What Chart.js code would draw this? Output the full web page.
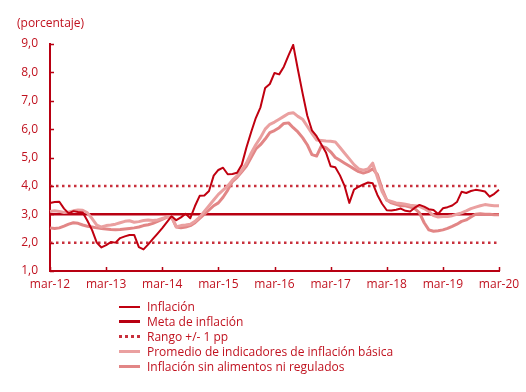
<!DOCTYPE html>
<html>
<head>
<meta charset="utf-8">
<script src="https://cdn.jsdelivr.net/npm/chart.js@4/dist/chart.umd.min.js"></script>
<style>
  html, body { margin: 0; padding: 0; background: #fff; }
  #wrap { position: relative; width: 526px; height: 392px; font-family: "Open Sans", sans-serif; color: #c0121f; }
  #title { position: absolute; left: 17px; top: 14px; font-size: 12px; }
  #legend { position: absolute; left: 119px; top: 299px; font-size: 12px; }
  .item { height: 15px; line-height: 15px; position: relative; padding-left: 28px; white-space: nowrap; }
  .item span.sw { position: absolute; left: 0; top: 7px; width: 21px; }
</style>
</head>
<body>
<div id="wrap">
  <canvas id="c" width="526" height="392"></canvas>
  <div id="title">(porcentaje)</div>
  <div id="legend"></div>
</div>
<script>
// meses mar-12 .. mar-20
var monthNames = ['ene','feb','mar','abr','may','jun','jul','ago','sep','oct','nov','dic'];
var years = ['12','13','14','15','16','17','18','19','20'];

var inflacion = [
  3.40, 3.43, 3.44, 3.20, 3.03, 3.11, 3.08, 3.06, 2.77, 2.44,
  2.00, 1.83, 1.91, 2.02, 2.00, 2.16, 2.22, 2.27, 2.27, 1.84, 1.76, 1.94,
  2.13, 2.32, 2.51, 2.72, 2.93, 2.79, 2.89, 3.02, 2.86, 3.29, 3.65, 3.66,
  3.82, 4.36, 4.56, 4.64, 4.41, 4.42, 4.46, 4.74, 5.35, 5.89, 6.39, 6.77,
  7.45, 7.59, 7.98, 7.93, 8.20, 8.60, 8.97, 8.10, 7.27, 6.48, 5.96, 5.75,
  5.47, 5.18, 4.69, 4.66, 4.37, 3.99, 3.40, 3.87, 3.97, 4.05, 4.12, 4.09,
  3.68, 3.37, 3.14, 3.13, 3.16, 3.20, 3.12, 3.10, 3.23, 3.33, 3.27, 3.18,
  3.15, 3.01, 3.21, 3.25, 3.31, 3.43, 3.79, 3.75, 3.82, 3.86, 3.84, 3.80,
  3.62, 3.72, 3.86
];

var promedioBasica = [
  3.10, 3.12, 3.10, 3.06, 3.08, 3.12, 3.15, 3.14, 3.05, 2.85,
  2.62, 2.55, 2.60, 2.62, 2.65, 2.70, 2.75, 2.77, 2.72, 2.74, 2.78, 2.80,
  2.78, 2.80, 2.85, 2.90, 2.92, 2.56, 2.60, 2.62, 2.65, 2.75, 2.90, 3.10,
  3.30, 3.50, 3.70, 3.85, 4.00, 4.20, 4.35, 4.55, 4.80, 5.15, 5.45, 5.70,
  6.00, 6.17, 6.25, 6.35, 6.45, 6.55, 6.58, 6.45, 6.35, 6.10, 5.85, 5.62,
  5.60, 5.58, 5.57, 5.55, 5.35, 5.15, 4.95, 4.75, 4.60, 4.55, 4.60, 4.80,
  4.30, 3.80, 3.50, 3.45, 3.40, 3.38, 3.35, 3.32, 3.30, 3.28, 3.20, 3.10,
  2.95, 2.90, 2.92, 2.92, 2.95, 3.00, 3.05, 3.12, 3.20, 3.25, 3.30, 3.34,
  3.32, 3.30, 3.30
];

var sinAlimentosRegulados = [
  2.52, 2.50, 2.52, 2.58, 2.65, 2.70, 2.68, 2.62, 2.58, 2.55,
  2.52, 2.50, 2.48, 2.46, 2.45, 2.46, 2.48, 2.50, 2.52, 2.55, 2.60, 2.63,
  2.68, 2.75, 2.82, 2.90, 2.90, 2.55, 2.52, 2.55, 2.60, 2.70, 2.85, 3.00,
  3.15, 3.30, 3.40, 3.60, 3.85, 4.15, 4.30, 4.50, 4.70, 5.00, 5.30, 5.45,
  5.65, 5.88, 5.95, 6.05, 6.20, 6.22, 6.05, 5.90, 5.70, 5.45, 5.10, 5.05,
  5.40, 5.35, 5.20, 5.00, 4.90, 4.80, 4.70, 4.60, 4.50, 4.45, 4.50, 4.60,
  4.40, 3.90, 3.50, 3.40, 3.35, 3.30, 3.30, 3.25, 3.20, 3.05, 2.70, 2.45,
  2.40, 2.42, 2.45, 2.50, 2.57, 2.65, 2.75, 2.80, 2.90, 3.00, 3.02, 3.00,
  3.00, 2.98, 2.98
];

var metaInflacion = 3;
var rangoSuperior = 4;
var rangoInferior = 2;

var labels = [];
for (var y = 0; y < years.length; y++) {
  for (var m = 0; m < 12; m++) {
    if ((y == 0 && m < 2) || (y == years.length - 1 && m > 2)) continue;
    labels.push(monthNames[m] + '-' + years[y]);
  }
}

var RED = '#b80012';
var TEXT = '#c0121f';

function flat(v) { return labels.map(function(){ return v; }); }

var series = [
  { label: 'Inflación', data: inflacion, borderColor: '#c00010', borderWidth: 2, legendWidth: 2 },
  { label: 'Promedio de indicadores de inflación básica', data: promedioBasica, borderColor: '#eaa0a0', borderWidth: 3, legendWidth: 3 },
  { label: 'Inflación sin alimentos ni regulados', data: sinAlimentosRegulados, borderColor: '#e28686', borderWidth: 3, legendWidth: 3 },
  { label: 'Meta de inflación', data: flat(metaInflacion), borderColor: RED, borderWidth: 2.5, legendWidth: 3 },
  { label: 'Rango +/- 1 pp', data: flat(rangoSuperior), borderColor: '#c8303c', borderWidth: 2.5, borderDash: [2.5, 3.5], legendWidth: 3 },
  { label: 'Rango +/- 1 pp', data: flat(rangoInferior), borderColor: '#c8303c', borderWidth: 2.5, borderDash: [2.5, 3.5], hideLegend: true }
];

var legendOrder = [0, 3, 4, 1, 2];

var datasets = series.map(function(s){
  return {
    label: s.label, data: s.data, borderColor: s.borderColor, borderWidth: s.borderWidth,
    borderDash: s.borderDash || [], pointRadius: 0, tension: 0, fill: false,
    borderCapStyle: 'butt', borderJoinStyle: 'round'
  };
});

// little inward tick marks on both axes
var innerTicks = {
  id: 'innerTicks',
  afterDraw: function(chart){
    var ctx = chart.ctx, xs = chart.scales.x, ys = chart.scales.y, a = chart.chartArea;
    ctx.save();
    ctx.strokeStyle = RED;
    ctx.lineWidth = 1.5;
    ctx.beginPath();
    for (var i = 0; i < labels.length; i++) {
      if (labels[i].indexOf('mar') !== 0) continue;
      var px = Math.round(xs.getPixelForValue(i)) + 0.5;
      ctx.moveTo(px, a.bottom);
      ctx.lineTo(px, a.bottom - 4);
    }
    for (var v = 1; v <= 9; v++) {
      var py = Math.round(ys.getPixelForValue(v)) + 0.5;
      ctx.moveTo(a.left, py);
      ctx.lineTo(a.left + 4, py);
    }
    ctx.stroke();
    ctx.restore();
  }
};

new Chart(document.getElementById('c'), {
  type: 'line',
  data: { labels: labels, datasets: datasets },
  plugins: [innerTicks],
  options: {
    responsive: false,
    animation: false,
    layout: { padding: { left: 0, right: 27, top: 44, bottom: 91 } },
    plugins: { legend: { display: false }, tooltip: { enabled: false } },
    scales: {
      x: {
        type: 'category',
        offset: false,
        grid: { display: false, drawTicks: false },
        border: { display: true, color: RED, width: 2 },
        ticks: {
          autoSkip: false, maxRotation: 0, padding: 6,
          color: TEXT, font: { family: 'Open Sans', size: 12 },
          callback: function(v, i){ return labels[i].indexOf('mar') === 0 ? labels[i] : null; }
        },
        afterFit: function(s){ s.height = 30; }
      },
      y: {
        min: 1, max: 9,
        grid: { display: false, drawTicks: false },
        border: { display: true, color: RED, width: 2 },
        ticks: {
          stepSize: 1, padding: 12,
          color: TEXT, font: { family: 'Open Sans', size: 12 },
          callback: function(v){ return v.toFixed(1).replace('.', ','); }
        },
        afterFit: function(s){ s.width = 50; }
      }
    }
  }
});

// legend built from the same series
var lg = document.getElementById('legend');
legendOrder.forEach(function(k){
  var s = series[k];
  var row = document.createElement('div');
  row.className = 'item';
  var sw = document.createElement('span');
  sw.className = 'sw';
  sw.style.borderTop = s.legendWidth + 'px ' + (s.borderDash ? 'dotted' : 'solid') + ' ' + s.borderColor;
  sw.style.top = (8 - Math.ceil(s.legendWidth / 2)) + 'px';
  row.appendChild(sw);
  row.appendChild(document.createTextNode(s.label));
  lg.appendChild(row);
});
</script>
</body>
</html>
